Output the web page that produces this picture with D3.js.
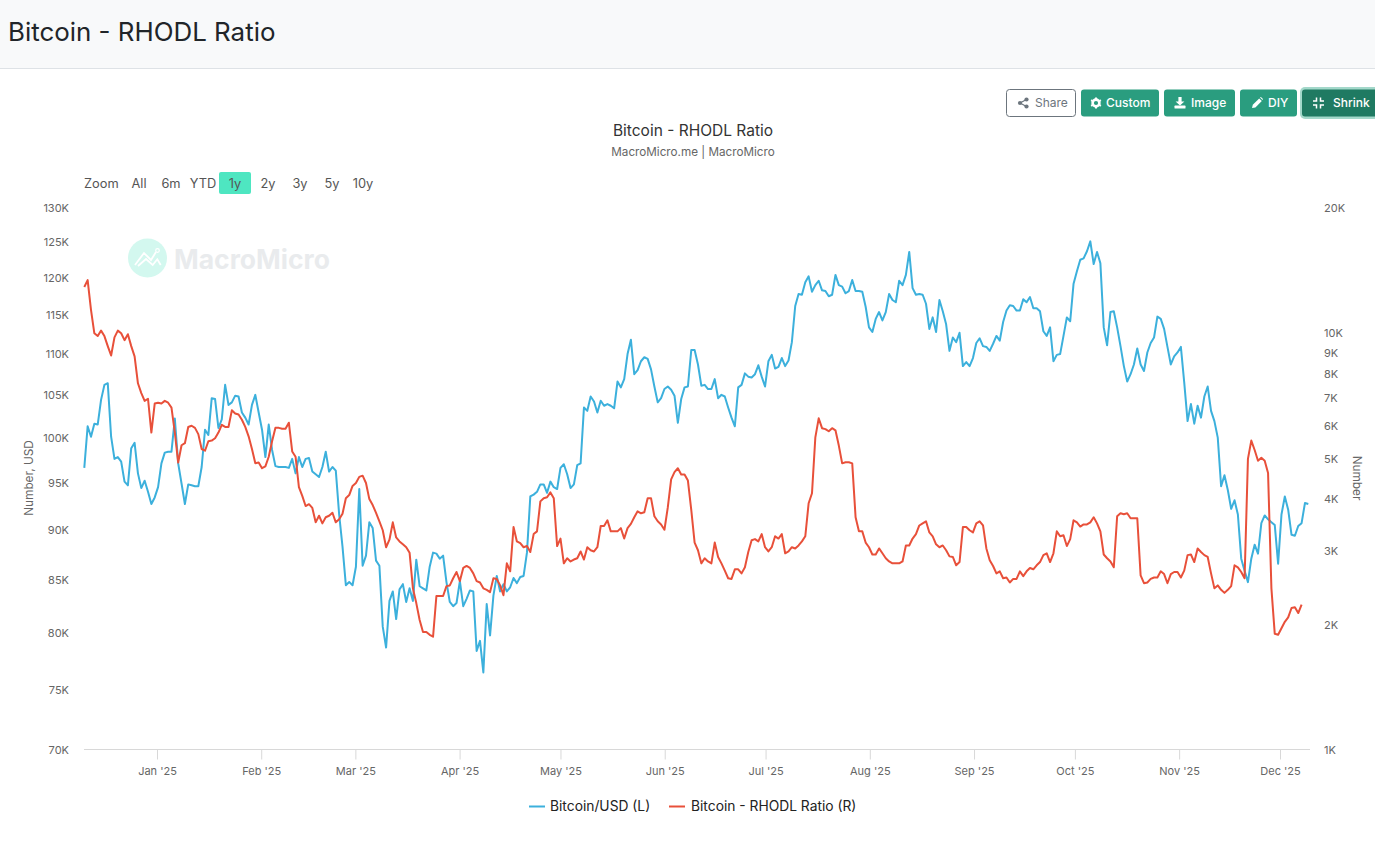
<!DOCTYPE html>
<html>
<head>
<meta charset="utf-8">
<script src="https://cdnjs.cloudflare.com/ajax/libs/d3/7.8.5/d3.min.js"></script>
<style>
html,body{margin:0;padding:0;background:#fff;overflow:hidden}
svg{display:block;font-family:Inter,"Noto Sans",sans-serif}
</style>
</head>
<body>
<svg id="c" width="1375" height="843"></svg>
<script>
// Thousand USD, one reading per plotted vertex
const btcValues = [96.5,101.2,100,101.5,101.4,104.3,106.1,106.3,100,97.5,97.7,97.2,95,94.6,98.7,99.3,95.9,94.3,95.1,93.9,92.6,93.3,94.4,97,98.2,98.3,98.3,102.1,97,94.8,92.6,94.7,94.6,94.5,94.5,96.6,100.8,100.2,104.5,104.4,101,102,106.1,103.7,104,104.8,104.7,102.8,102.2,101.4,103.7,104.9,102.8,100.8,97.7,101.4,98.5,96.7,96.6,96.6,96.6,96.5,97.5,95.9,97.7,96.6,97.5,97.6,96.1,95.8,95.5,96.6,98.3,96.1,96.6,96.2,91.5,88.2,84.4,84.7,84.4,86.2,94.2,86.3,87.3,90.7,90.1,86.8,86.3,80.5,78.6,82.9,83.8,81.2,84,84.5,82.8,84.1,82.9,86.9,84.3,84.1,83.9,86.2,87.6,87.5,87,87.3,84.7,82.8,82.4,82.7,84.8,82.4,83.1,83.9,83.8,78.3,79.2,76.4,82.6,79.7,83.4,85.3,83.8,84.5,83.8,84.2,85.1,84.6,85.2,85.3,87.6,93.4,93.6,93.9,94.7,94.7,93.8,95,94.4,94.2,96.5,96.9,95.8,94.3,94.7,96.8,97,103.4,103,104.7,104.1,102.8,104.2,103.6,103.8,103.6,103.3,106.5,105.8,106.8,109.9,111.7,107.4,107.9,109,109.5,109.3,108,105.9,104,104.5,105.6,105.9,105.5,104.8,101.6,104.4,105.8,105.9,110.4,110.4,108.6,106,106.1,105.6,105.6,106.8,104.5,104.9,104.7,103.4,102.2,101.2,105.8,106.1,107.5,107.1,107,107.4,108.5,107.1,105.9,109,109.8,108.1,108.3,109.4,108.4,109.1,111.4,116.1,117.7,117.6,119.3,120.1,118,118.9,119.5,118.2,118.1,117.4,117.6,120.3,118.9,118.7,117.8,118.1,119.6,118.1,118.1,118,116,113.3,112.7,114.4,115.3,114.2,115.3,117.7,116.9,116.6,119.5,118.9,120.3,123.5,118.5,117.6,117.7,117.6,116.4,113.1,114.6,112.7,116.9,115.4,113.7,110.3,112,111.4,112.6,108.4,108.9,108.4,109.4,111.3,111.9,110.9,110.8,110.3,111.2,112.2,111.6,114,115.5,116.2,116.1,115.5,115.5,117,116.6,117.3,115.8,115.8,115.4,112.8,112.2,113.3,109,109.8,109.9,112.2,114.6,114.1,119.1,120.8,122.4,122.6,123.6,125,121.8,123.5,121.9,113.3,111,115.3,115.4,113.3,110.9,108.4,106.5,107.4,108.6,110.6,108.6,107.8,110.1,111.3,112,114.7,114.4,113.1,110.8,108.6,109.6,110.1,110.8,106.4,101.8,103.8,101.5,103.6,102.2,104.7,105.9,103,101.8,99.9,94.5,95.7,94.1,92.1,93,91.5,87,85.8,84.7,87,88.4,87.5,90.6,91.4,91,90.7,90.4,86.5,91.5,93.4,92,89.4,89.3,90.3,90.6,92.7,92.6];
// Thousands, same dates as btcValues, ends two readings earlier
const rhodlValues = [12.85,13.35,11.33,9.95,9.8,10.1,9.8,9.27,8.8,9.73,10.1,9.95,9.58,9.9,9.27,8.76,7.55,7.15,6.85,6.93,5.75,6.75,6.78,6.75,6.85,6.78,6.6,5.75,4.87,5.36,5.42,5.93,5.97,5.9,5.7,5.25,5.2,5.48,5.5,5.57,5.75,6,5.93,5.93,6.5,6.39,6.35,6.17,5.93,5.63,5.25,4.85,4.87,4.72,4.77,5.03,5.48,5.9,5.9,5.87,5.87,6.07,5.18,5.03,4.25,4.05,3.83,3.87,3.79,3.5,3.63,3.48,3.6,3.63,3.69,3.5,3.56,3.67,4,4.07,4.28,4.35,4.5,4.53,4.35,3.98,3.85,3.69,3.52,3.35,3.05,3.18,3.5,3.22,3.15,3.1,3.05,2.96,2.43,2.24,2.04,1.91,1.91,1.88,1.86,2.33,2.33,2.33,2.46,2.47,2.57,2.66,2.53,2.72,2.75,2.72,2.64,2.53,2.51,2.43,2.41,2.38,2.57,2.56,2.47,2.34,2.79,2.67,3.41,3.15,3.12,3.05,3.07,2.97,3.28,3.33,3.93,4,4.02,4.13,4,3.07,3.2,2.79,2.87,2.82,2.85,2.87,2.98,2.85,3.05,3,2.98,3.05,3.43,3.43,3.54,3.33,3.33,3.33,3.39,3.2,3.39,3.47,3.6,3.72,3.68,3.7,4,4,3.62,3.52,3.46,3.36,3.8,4.44,4.62,4.72,4.56,4.56,4.41,3.75,3.13,3,2.79,2.87,2.82,2.79,3.13,2.89,2.79,2.68,2.57,2.56,2.7,2.7,2.64,2.73,2.97,3.17,3.19,3.15,3.28,3.05,2.98,3.05,3.24,3.2,3.28,2.95,2.98,3.05,3.03,3.08,3.15,3.24,3.89,4.11,5.6,6.22,5.89,5.86,5.79,5.89,5.82,5.35,4.85,4.88,4.88,4.85,3.6,3.33,3.33,3.13,3.05,2.93,2.93,3.03,2.95,2.87,2.82,2.79,2.79,2.79,2.82,3.08,3.08,3.2,3.28,3.44,3.48,3.52,3.31,3.24,3.1,3.05,3.08,3,2.9,2.89,2.76,2.81,3.41,3.41,3.35,3.31,3.48,3.52,3.44,3.03,2.84,2.75,2.64,2.67,2.57,2.58,2.51,2.56,2.56,2.67,2.6,2.67,2.72,2.7,2.76,2.81,2.92,2.95,2.81,2.95,3.33,3.24,3.26,3.07,3.19,3.54,3.5,3.42,3.46,3.46,3.5,3.6,3.48,3.33,2.93,2.87,2.82,2.73,3.62,3.68,3.66,3.68,3.58,3.58,3.58,2.61,2.5,2.51,2.56,2.58,2.58,2.67,2.63,2.5,2.63,2.66,2.66,2.58,2.68,2.92,2.93,2.81,3.03,2.97,2.92,2.89,2.64,2.43,2.47,2.41,2.37,2.41,2.46,2.76,2.73,2.66,2.57,4.97,5.5,5.22,4.92,5,4.92,4.6,2.43,1.89,1.88,1.95,2.02,2.07,2.18,2.19,2.12,2.22];
const leftTicks = [70,75,80,85,90,95,100,105,110,115,120,125,130];
const rightTicks = [1,2,3,4,5,6,7,8,9,10,20];
const monthTicks = ["2025-01-01","2025-02-01","2025-03-01","2025-04-01","2025-05-01","2025-06-01","2025-07-01","2025-08-01","2025-09-01","2025-10-01","2025-11-01","2025-12-01"];
const rangeButtons = ["All","6m","YTD","1y","2y","3y","5y","10y"];
const firstDate = new Date(Date.UTC(2024,11,10,9));
const lastDate = new Date(Date.UTC(2025,11,9,10));

const svg = d3.select("#c");
const utc = s => new Date(s + "T00:00:00Z");
const x = d3.scaleUtc().domain([utc("2025-01-01"), utc("2025-12-01")]).range([157, 1280]);
const yL = d3.scaleLog().domain([70,130]).range([749,207]);
const yR = d3.scaleLog().domain([1,20]).range([749,207]);
const stamp = i => new Date(+firstDate + (lastDate-firstDate)*i/(btcValues.length-1));

// page header
svg.append("rect").attr("width",1375).attr("height",68).attr("fill","#f8f9fa");
svg.append("line").attr("x1",0).attr("x2",1375).attr("y1",68.5).attr("y2",68.5).attr("stroke","#dee2e6");
svg.append("text").attr("x",8).attr("y",41).attr("font-size",25.9).attr("fill","#212529").text("Bitcoin - RHODL Ratio");

// toolbar buttons
const tbar = [
 {t:"Share",x:1006.5,w:69,tx:1035,fill:"#fff",col:"#6c757d",stroke:"#6c757d",icon:"share",ix:1023},
 {t:"Custom",x:1081,w:78,tx:1106,fill:"#2a9d7f",col:"#fff",icon:"gear",ix:1096},
 {t:"Image",x:1164,w:71,tx:1191,fill:"#2a9d7f",col:"#fff",icon:"down",ix:1180},
 {t:"DIY",x:1240,w:57,tx:1268,fill:"#2a9d7f",col:"#fff",icon:"pen",ix:1257},
 {t:"Shrink",x:1302,w:75,tx:1333,fill:"#1f7a62",col:"#fff",icon:"shrink",ix:1318.5,halo:true}
];
tbar.forEach(b=>{
  if(b.halo) svg.append("rect").attr("x",b.x-2).attr("y",87).attr("width",b.w+4).attr("height",32).attr("rx",5).attr("fill","#a3d8ca");
  svg.append("rect").attr("x",b.x).attr("y",89.5).attr("width",b.w).attr("height",27).attr("rx",3)
     .attr("fill",b.fill).attr("stroke",b.stroke||"none");
  svg.append("text").attr("x",b.tx).attr("y",107).attr("font-size",12).attr("font-weight",b.col==="#fff"?500:400).attr("fill",b.col).text(b.t);
  const g = svg.append("g").attr("transform",`translate(${b.ix},103)`).attr("fill",b.col).attr("stroke",b.col);
  if(b.icon==="share"){
    g.append("path").attr("d","M3.5,-3.5L-3,0L3.5,3.5").attr("fill","none").attr("stroke-width",1.2);
    [[3.5,-3.5],[-3,0],[3.5,3.5]].forEach(p=>g.append("circle").attr("cx",p[0]).attr("cy",p[1]).attr("r",2.1).attr("stroke","none"));
  } else if(b.icon==="gear"){
    g.append("circle").attr("r",3.4).attr("fill","none").attr("stroke-width",2.6);
    d3.range(6).forEach(i=>g.append("line").attr("x1",0).attr("y1",-4).attr("x2",0).attr("y2",-5.6).attr("stroke-width",2).attr("transform",`rotate(${i*60})`));
  } else if(b.icon==="down"){
    g.append("path").attr("d","M-1.6,-6H1.6V-1.5H4.4L0,2.6L-4.4,-1.5H-1.6Z").attr("stroke","none");
    g.append("rect").attr("x",-5.5).attr("y",2.6).attr("width",11).attr("height",3).attr("rx",.6).attr("stroke","none");
  } else if(b.icon==="pen"){
    g.append("path").attr("d","M-5,5L-4.2,1.8L2.2,-4.6L4.8,-2L-1.6,4.4Z").attr("stroke","none");
    g.append("path").attr("d","M3,-5.4L3.9,-6L6,-3.9L5.5,-3Z").attr("stroke","none");
  } else {
    ["M-5.5,-2H-2V-5.5","M2,-5.5V-2H5.5","M-5.5,2H-2V5.5","M2,5.5V2H5.5"].forEach(d=>g.append("path").attr("d",d).attr("fill","none").attr("stroke-width",1.5));
  }
});

// chart titles
svg.append("text").attr("x",693).attr("y",135.5).attr("text-anchor","middle").attr("font-size",15.5).attr("fill","#333").text("Bitcoin - RHODL Ratio");
svg.append("text").attr("x",693).attr("y",156).attr("text-anchor","middle").attr("font-size",11.7).attr("fill","#666").text("MacroMicro.me | MacroMicro");

// range selector
svg.append("text").attr("x",84).attr("y",188).attr("font-size",12.8).attr("fill","#555").text("Zoom");
const rx = [139,171,203,235,268,300,332,363];
rangeButtons.forEach((t,i)=>{
  if(t==="1y") svg.append("rect").attr("x",219).attr("y",172).attr("width",32).attr("height",22).attr("rx",2).attr("fill","#4ee6c1");
  svg.append("text").attr("x",rx[i]).attr("y",188).attr("text-anchor","middle").attr("font-size",12.8).attr("fill","#555").text(t);
});

// watermark
const wm = svg.append("g");
wm.append("circle").attr("cx",147.5).attr("cy",258).attr("r",19.5).attr("fill","#d3f8ef");
wm.append("path").attr("d","M135,265L144,253L151,260L156,252").attr("fill","none").attr("stroke","#fff").attr("stroke-width",1.8);
wm.append("circle").attr("cx",157.5).attr("cy",250.5).attr("r",1.8).attr("fill","none").attr("stroke","#fff").attr("stroke-width",1.2);
wm.append("path").attr("d","M138,266L146,259L152.7,265L157.3,259.3L160.7,265").attr("fill","none").attr("stroke","#fff").attr("stroke-width",1.8);
wm.append("text").attr("x",174).attr("y",268.5).attr("font-size",26.5).attr("font-weight",700).attr("fill","#e9ebed").text("MacroMicro");

// axes
const styleAxis = (g,size) => {
  g.select(".domain").remove();
  g.selectAll("text").attr("font-size",size).attr("fill","#666").attr("font-family","Inter,'Noto Sans',sans-serif");
};
svg.append("g").attr("transform","translate(69,1)")
  .call(d3.axisLeft(yL).tickValues(leftTicks).tickSize(0).tickPadding(0).tickFormat(d=>d+"K"))
  .call(g=>styleAxis(g,11));
svg.append("g").attr("transform","translate(1324,1)")
  .call(d3.axisRight(yR).tickValues(rightTicks).tickSize(0).tickPadding(0).tickFormat(d=>d+"K"))
  .call(g=>styleAxis(g,11));
const gx = svg.append("g").attr("transform","translate(0,749.5)")
  .call(d3.axisBottom(x).tickValues(monthTicks.map(utc)).tickSize(10).tickPadding(8).tickFormat(d3.utcFormat("%b '%y")));
styleAxis(gx,11);
gx.selectAll(".tick line").attr("stroke","#d8d8d8");
svg.append("line").attr("x1",84).attr("x2",1310).attr("y1",749.5).attr("y2",749.5).attr("stroke","#d8d8d8");

svg.append("text").attr("transform","translate(33,478) rotate(-90)").attr("text-anchor","middle").attr("font-size",11.8).attr("fill","#666").text("Number, USD");
svg.append("text").attr("transform","translate(1353,478) rotate(90)").attr("text-anchor","middle").attr("font-size",11.8).attr("fill","#666").text("Number");

// series
const line = y => d3.line().x((d,i)=>x(stamp(i))).y(d=>y(d)).curve(d3.curveLinear);
svg.append("path").datum(btcValues).attr("d",line(yL)).attr("fill","none").attr("stroke","#3cb0dc").attr("stroke-width",2).attr("stroke-linejoin","round");
svg.append("path").datum(rhodlValues).attr("d",line(yR)).attr("fill","none").attr("stroke","#e8503a").attr("stroke-width",2).attr("stroke-linejoin","round");

// legend
[{t:"Bitcoin/USD (L)",x:529,tx:550,c:"#3cb0dc"},{t:"Bitcoin - RHODL Ratio (R)",x:669,tx:691,c:"#e8503a"}].forEach(l=>{
  svg.append("line").attr("x1",l.x).attr("x2",l.x+16).attr("y1",806.5).attr("y2",806.5).attr("stroke",l.c).attr("stroke-width",2);
  svg.append("text").attr("x",l.tx).attr("y",811).attr("font-size",13.8).attr("fill","#222").text(l.t);
});
</script>
</body>
</html>
